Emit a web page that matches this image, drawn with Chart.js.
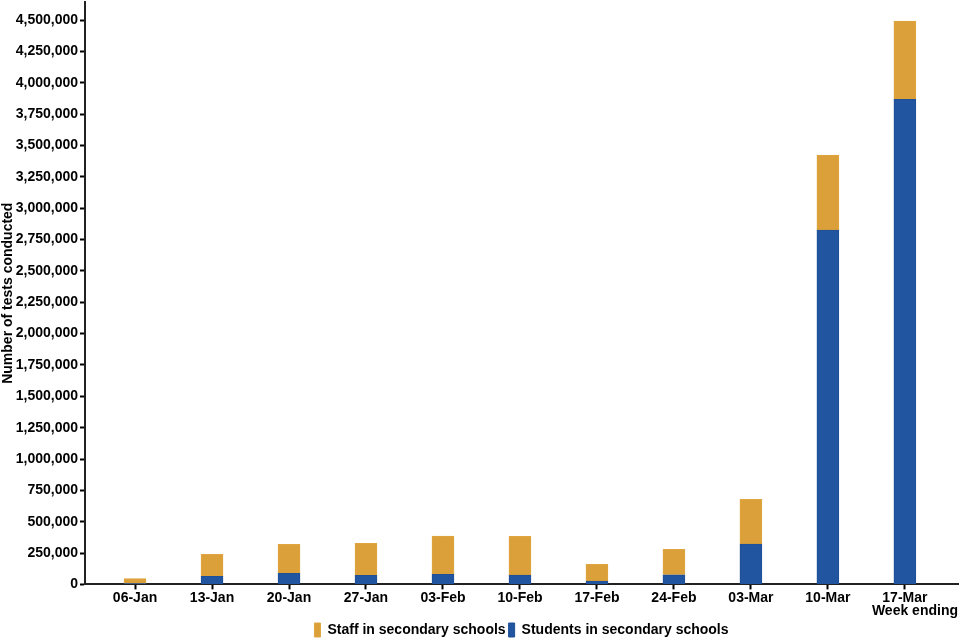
<!DOCTYPE html>
<html>
<head>
<meta charset="utf-8">
<script src="https://cdn.jsdelivr.net/npm/chart.js@4/dist/chart.umd.min.js"></script>
<style>
  html, body { margin: 0; padding: 0; background: #fff; }
  #wrap { width: 960px; height: 640px; }
</style>
</head>
<body>
<div id="wrap"><canvas id="testsChart"></canvas></div>
<script>
// week ending dates
const weeks = ['06-Jan', '13-Jan', '20-Jan', '27-Jan', '03-Feb', '10-Feb', '17-Feb', '24-Feb', '03-Mar', '10-Mar', '17-Mar'];
// tests conducted
const students = [6000, 64000, 88000, 72000, 80000, 74000, 26000, 77000, 322000, 2825000, 3868000];
const staff = [40000, 175000, 231000, 255000, 305000, 309000, 134000, 202000, 356000, 599000, 625000];
const yTicks = [0, 250000, 500000, 750000, 1000000, 1250000, 1500000, 1750000, 2000000, 2250000,
  2500000, 2750000, 3000000, 3250000, 3500000, 3750000, 4000000, 4250000, 4500000];

const font = { family: "'Liberation Sans', Arial, sans-serif", size: 14, weight: 'bold' };
Chart.defaults.color = '#000';

const ctx = document.getElementById('testsChart').getContext('2d');
new Chart(ctx, {
    type: 'bar',
    data: {
        datasets: [{
            label: 'Students in secondary schools',
            data: students.map((v, i) => ({ x: i, y: v })),
            backgroundColor: '#2155a0',
            borderColor: '#1f4f96',
            borderWidth: 1,
            barThickness: 22
        }, {
            label: 'Staff in secondary schools',
            data: staff.map((v, i) => ({ x: i, y: v })),
            backgroundColor: '#dba039',
            borderColor: '#e0a540',
            borderWidth: 1,
            barThickness: 22
        }]
    },
    options: {
        responsive: true,
        maintainAspectRatio: false,
        animation: false,
        layout: { padding: { top: 2, right: 2, left: 0, bottom: -7 } },
        plugins: {
            legend: {
                position: 'bottom',
                reverse: true,
                fullSize: false,
                labels: { font: font, boxWidth: 6, boxHeight: 14, padding: 3 }
            },
            tooltip: { enabled: false }
        },
        scales: {
            x: {
                type: 'linear',
                stacked: true,
                offset: false,
                min: -0.65,
                max: 10.69,
                afterBuildTicks: (scale) => { scale.ticks = weeks.map((w, i) => ({ value: i })); },
                ticks: {
                    font: font,
                    padding: 0,
                    includeBounds: false,
                    callback: (value) => weeks[value]
                },
                grid: { offset: false, drawOnChartArea: false, color: '#000', tickLength: 5, tickWidth: 2 },
                border: { color: '#222', width: 2 },
                title: { display: true, text: 'Week ending', align: 'end', font: font, padding: { top: -3, bottom: 0 } }
            },
            y: {
                stacked: true,
                min: 0,
                max: 4645000,
                afterBuildTicks: (scale) => { scale.ticks = yTicks.map(v => ({ value: v })); },
                afterFit: (scale) => {
                    scale.width = 85;
                    scale.paddingTop = 0;
                    scale.paddingBottom = 0;
                },
                ticks: {
                    font: font,
                    padding: 2,
                    includeBounds: false,
                    callback: (value) => value.toLocaleString('en-GB')
                },
                grid: { drawOnChartArea: false, color: '#000', tickLength: 5, tickWidth: 2 },
                border: { color: '#222', width: 2 },
                title: { display: true, text: 'Number of tests conducted', font: font, padding: { top: 0, bottom: 2 } }
            }
        }
    }
});
</script>
</body>
</html>
